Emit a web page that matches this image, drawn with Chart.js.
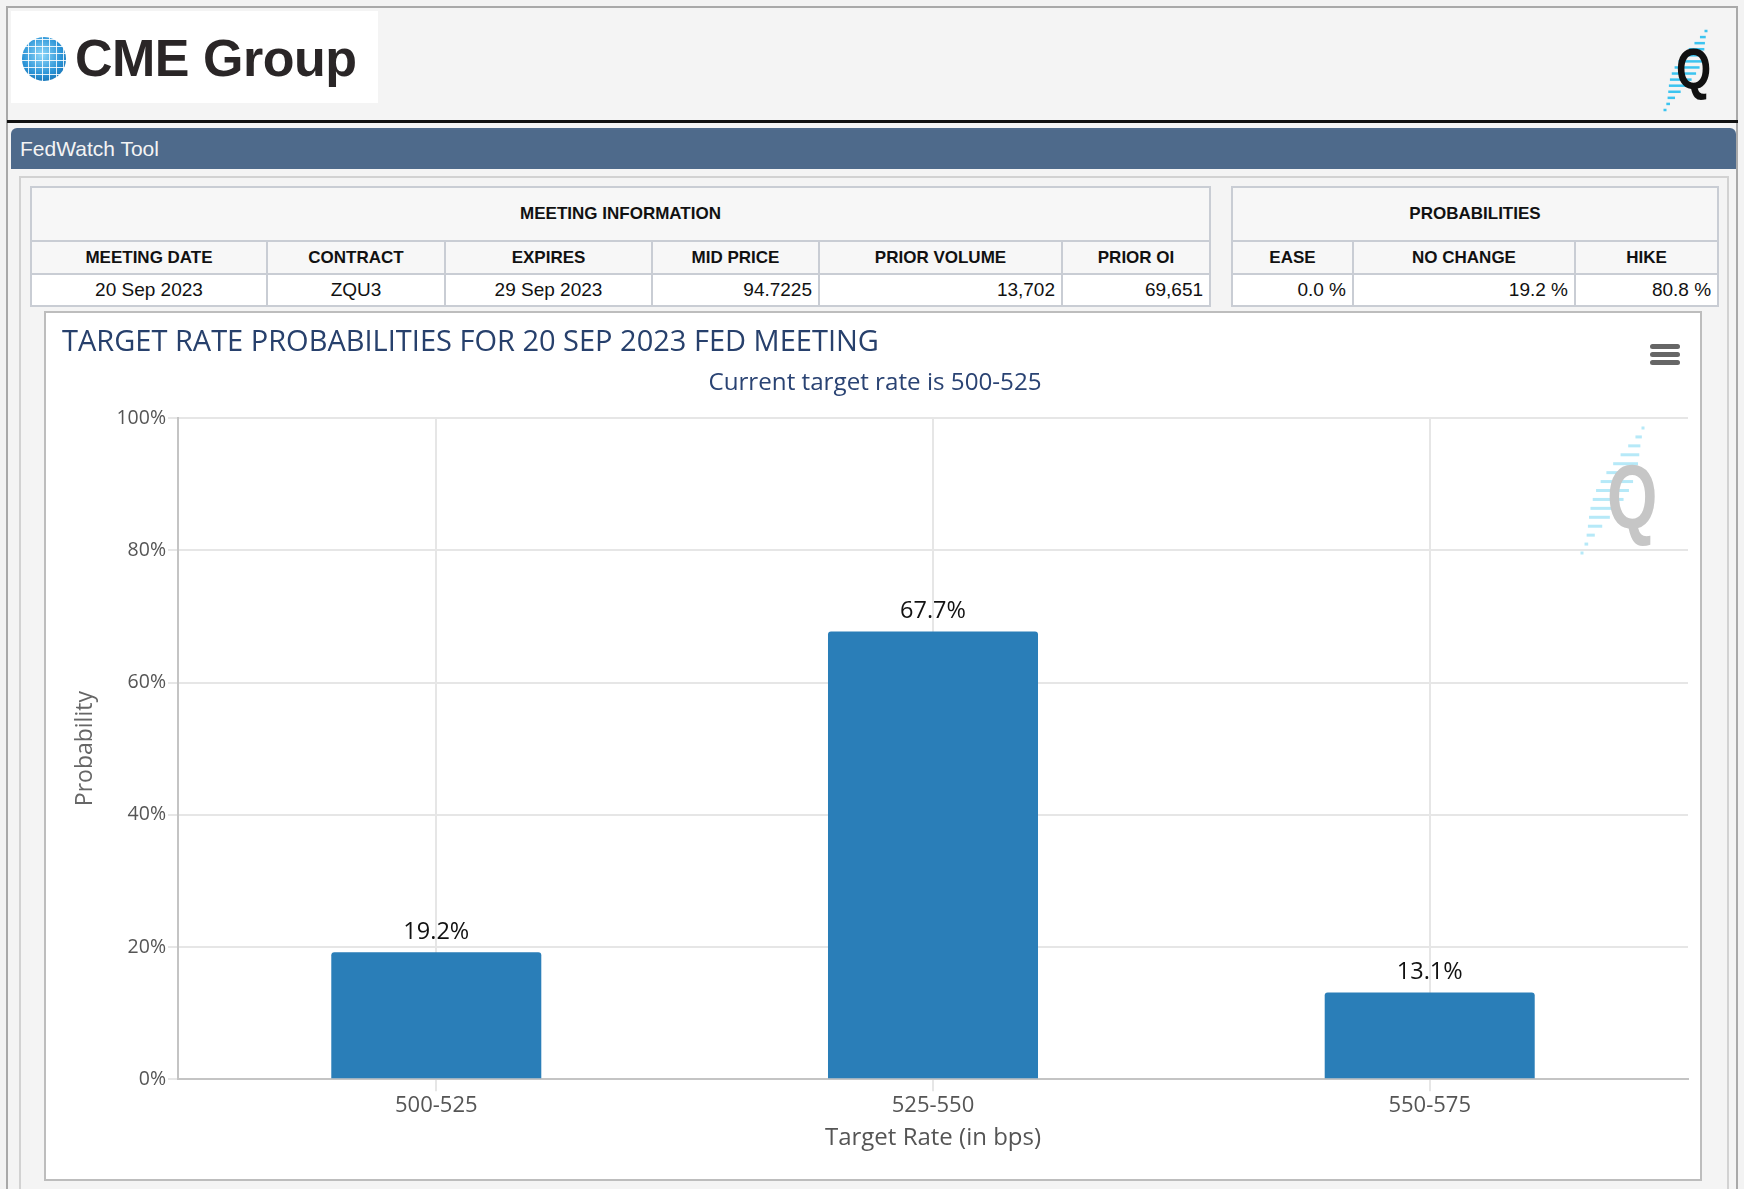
<!DOCTYPE html>
<html lang="en">
<head>
<meta charset="utf-8">
<title>FedWatch Tool</title>
<script src="https://cdn.jsdelivr.net/npm/chart.js@4.4.1/dist/chart.umd.min.js"></script>
<style>
  html, body { margin: 0; padding: 0; }
  body {
    width: 1744px; height: 1189px; position: relative; overflow: hidden;
    background: #f3f3f3; font-family: "Liberation Sans", Arial, sans-serif;
  }
  .abs { position: absolute; box-sizing: border-box; }
  #marco { left: 6px; top: 6px; width: 1732px; height: 1220px; background: #f4f4f4; border: 2px solid #a9a9a9; }
  #logo { left: 11px; top: 11px; width: 367px; height: 92px; background: #fff; }
  #globo {
    left: 22px; top: 37px; width: 44px; height: 44px; border-radius: 50%;
    background:
      repeating-linear-gradient(90deg, transparent 0 6px, rgba(255,255,255,.85) 6px 7px),
      repeating-linear-gradient(0deg, transparent 0 6px, rgba(255,255,255,.85) 6px 7px),
      radial-gradient(circle at 45% 40%, #8fd8fa 0%, #2a93d6 55%, #0f5e9c 100%);
  }
  #marca { left: 75px; top: 32px; font-size: 52px; font-weight: bold; color: #2a2627; line-height: 1; letter-spacing: -0.5px; white-space: nowrap; }
  #qlogo { left: 1676px; top: 40px; font-size: 58px; font-weight: bold; color: #111; line-height: 1; transform: scaleX(0.78); transform-origin: left top; }
  #linea { left: 7px; top: 120px; width: 1731px; height: 3px; background: #111; }
  #barra { left: 11px; top: 128px; width: 1725px; height: 41px; background: #4e6a8b; border-radius: 6px 6px 0 0; color: #f4f4f4; font-size: 21px; line-height: 41px; padding-left: 9px; }
  #panel { left: 19px; top: 176px; width: 1710px; height: 1100px; border: 2px solid #d2d2d2; background: #f4f4f4; }
  table { position: absolute; border-collapse: collapse; table-layout: fixed; font-family: "Liberation Sans", Arial, sans-serif; }
  td, th { border: 2px solid #c9cdd4; padding: 0 6px; white-space: nowrap; overflow: hidden; }
  th { font-size: 17px; font-weight: bold; color: #111; background: #f7f7f7; text-align: center; }
  td { font-size: 19px; color: #111; background: #fff; }
  tr.titulo { height: 54px; }
  tr.encab { height: 33px; }
  tr.datos { height: 32px; }
  #reunion { left: 30px; top: 186px; width: 1181px; }
  #prob { left: 1231px; top: 186px; width: 486px; }
  #caja { left: 44px; top: 311px; width: 1658px; height: 870px; background: #fff; border: 2px solid #bdbdbd; }
  #lienzo { left: 46px; top: 313px; width: 1654px; height: 866px; }
  .menu { left: 1650px; width: 30px; height: 5px; border-radius: 3px; background: #666; }
  #qmarca { left: 1607px; top: 452px; font-size: 90px; font-weight: bold; color: #c6c6c6; line-height: 1; transform: scaleX(0.72); transform-origin: left top; }
  svg { position: absolute; left: 0; top: 0; }
</style>
</head>
<body>
<div class="abs" id="marco"></div>
<div class="abs" id="logo"></div>
<div class="abs" id="globo"></div>
<div class="abs" id="marca">CME Group</div>
<svg id="rayasLogo" width="1744" height="130"></svg>
<div class="abs" id="qlogo">Q</div>
<div class="abs" id="linea"></div>
<div class="abs" id="barra">FedWatch Tool</div>
<div class="abs" id="panel"></div>

<table id="reunion">
  <colgroup><col style="width:236px"><col style="width:178px"><col style="width:207px"><col style="width:167px"><col style="width:243px"><col style="width:148px"></colgroup>
</table>
<table id="prob">
  <colgroup><col style="width:121px"><col style="width:222px"><col style="width:143px"></colgroup>
</table>

<div class="abs" id="caja"></div>
<div class="abs" id="lienzo"><canvas id="grafica"></canvas></div>
<svg id="rayasMarca" width="1744" height="600"></svg>
<div class="abs" id="qmarca">Q</div>
<div class="abs menu" style="top:344px"></div>
<div class="abs menu" style="top:352px"></div>
<div class="abs menu" style="top:360px"></div>

<script>
// Datos de la tabla
const tituloReunion = "MEETING INFORMATION";
const encabezadosReunion = ["MEETING DATE", "CONTRACT", "EXPIRES", "MID PRICE", "PRIOR VOLUME", "PRIOR OI"];
const valoresReunion = ["20 Sep 2023", "ZQU3", "29 Sep 2023", "94.7225", "13,702", "69,651"];
const tituloProb = "PROBABILITIES";
const encabezadosProb = ["EASE", "NO CHANGE", "HIKE"];
const valoresProb = ["0.0 %", "19.2 %", "80.8 %"];

// Datos de la grafica
const tituloGrafica = "TARGET RATE PROBABILITIES FOR 20 SEP 2023 FED MEETING";
const subtituloGrafica = "Current target rate is 500-525";
const tasas = ["500-525", "525-550", "550-575"];
const probabilidades = [19.2, 67.7, 13.1];
const marcasY = [0, 20, 40, 60, 80, 100];

function llenarTabla(id, titulo, encabezados, valores, centradas) {
  const tabla = document.getElementById(id);
  const thead = tabla.createTHead();
  const filaTitulo = thead.insertRow();
  filaTitulo.className = "titulo";
  const th0 = document.createElement("th");
  th0.colSpan = encabezados.length;
  th0.textContent = titulo;
  filaTitulo.appendChild(th0);

  const filaEnc = thead.insertRow();
  filaEnc.className = "encab";
  encabezados.forEach((col) => {
    const th = document.createElement("th");
    th.textContent = col;
    filaEnc.appendChild(th);
  });

  const tbody = tabla.createTBody();
  const fila = tbody.insertRow();
  fila.className = "datos";
  valores.forEach((v, i) => {
    const td = fila.insertCell();
    td.textContent = v;
    td.style.textAlign = i < centradas ? "center" : "right";
  });
}

llenarTabla("reunion", tituloReunion, encabezadosReunion, valoresReunion, 3);
llenarTabla("prob", tituloProb, encabezadosProb, valoresProb, 0);

// rayitas de los logos Q
function rayas(svgId, n, x0, y0, x1, y1, largo, grosor, color) {
  const svg = document.getElementById(svgId);
  for (let i = 0; i < n; i++) {
    const t = i / (n - 1);
    const cx = x0 + t * (x1 - x0);
    const cy = y0 + t * (y1 - y0);
    const l = 3 + largo * Math.pow(Math.sin(Math.PI * Math.min(1, t * 1.05)), 1.5);
    const r = document.createElementNS("http://www.w3.org/2000/svg", "rect");
    r.setAttribute("x", cx - l / 2);
    r.setAttribute("y", cy - grosor / 2);
    r.setAttribute("width", l);
    r.setAttribute("height", grosor);
    r.setAttribute("fill", color);
    svg.appendChild(r);
  }
}
rayas("rayasLogo", 14, 1706, 31, 1665, 110, 22, 2.5, "#3cc4f0");
rayas("rayasMarca", 15, 1643, 428, 1582, 553, 30, 3, "#b6e9f8");

const fuente = "'Open Sans', Lato, sans-serif";

const etiquetasDatos = {
  id: "etiquetasDatos",
  afterDatasetsDraw(chart) {
    const ctx = chart.ctx;
    const meta = chart.getDatasetMeta(0);
    ctx.save();
    ctx.font = "23.5px " + fuente;
    ctx.fillStyle = "#111";
    ctx.textAlign = "center";
    ctx.textBaseline = "middle";
    meta.data.forEach((barra, i) => {
      ctx.fillText(probabilidades[i].toFixed(1) + "%", barra.x, barra.y - 20);
    });
    ctx.restore();
  },
};

new Chart(document.getElementById("grafica"), {
  type: "bar",
  data: {
    datasets: [
      {
        label: "Probability",
        data: probabilidades.map((v, i) => ({ x: i, y: v })),
        backgroundColor: "#2a7eb8",
        borderRadius: { topLeft: 3, topRight: 3 },
        borderSkipped: "bottom",
        barPercentage: 0.4228,
        categoryPercentage: 1,
      },
    ],
  },
  options: {
    responsive: true,
    maintainAspectRatio: false,
    animation: false,
    layout: { padding: { left: 16, right: 12, top: 0, bottom: 26.4 } },
    plugins: {
      legend: { display: false },
      tooltip: { enabled: false },
      title: {
        display: true,
        text: tituloGrafica,
        align: "start",
        color: "#27406c",
        font: { family: fuente, size: 29, weight: "normal" },
        padding: { top: 12, bottom: 5 },
      },
      subtitle: {
        display: true,
        text: subtituloGrafica,
        color: "#2a4373",
        font: { family: fuente, size: 24.2 },
        padding: { top: 3.7, bottom: 20.5 },
      },
    },
    scales: {
      x: {
        type: "linear",
        offset: false,
        min: -0.52,
        max: tasas.length - 0.48,
        afterBuildTicks: (escala) => {
          escala.ticks = tasas.map((_, i) => ({ value: i }));
        },
        grid: { offset: false, color: "#e6e6e6", lineWidth: 2, tickLength: 12 },
        border: { color: "#c4c4c4", width: 2 },
        ticks: {
          color: "#555",
          font: { family: fuente, size: 22 },
          padding: 0.9,
          callback: (v) => tasas[v],
        },
        title: {
          display: true,
          text: "Target Rate (in bps)",
          color: "#555",
          font: { family: fuente, size: 24 },
          padding: { top: 4.4, bottom: 0 },
        },
      },
      y: {
        min: 0,
        max: 100,
        afterBuildTicks: (escala) => {
          escala.ticks = marcasY.map((v) => ({ value: v }));
        },
        afterFit: (escala) => {
          escala.width = 116;
        },
        grid: { color: "#e6e6e6", lineWidth: 2, tickLength: 10 },
        border: { color: "#c4c4c4", width: 2 },
        ticks: {
          color: "#555",
          font: { family: fuente, size: 19.5 },
          padding: 2,
          callback: (v) => v + "%",
        },
        title: {
          display: true,
          text: "Probability",
          color: "#666",
          font: { family: fuente, size: 23 },
          padding: { top: 10, bottom: 10 },
        },
      },
    },
  },
  plugins: [etiquetasDatos],
});
</script>
</body>
</html>
